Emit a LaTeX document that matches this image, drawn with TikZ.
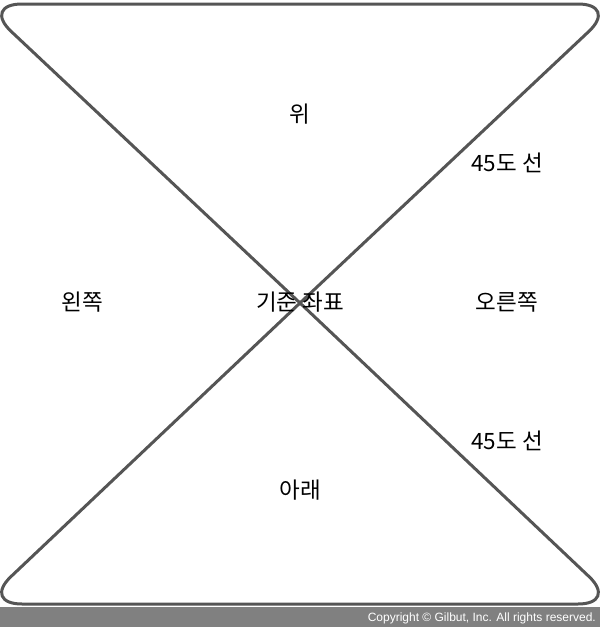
\documentclass[tikz,border=0pt]{standalone}
\usepackage{fontspec}
\setmainfont{Liberation Sans}
\newfontfamily\kr{Noto Sans CJK KR}
\definecolor{edge}{HTML}{555555}
\definecolor{band}{HTML}{808080}
\begin{document}
\begin{tikzpicture}[x=1pt,y=-1pt,
  shape line/.style={draw=edge,line width=3pt,rounded corners=40pt},
  lbl/.style={font=\kr\fontsize{22.5}{26}\selectfont,text=black,inner sep=0pt}]
\useasboundingbox (0,0) rectangle (600,627);
\fill[band] (0,607) rectangle (600,627);
\draw[shape line] (300,303) -- (-18,4) -- (618,4) -- (300,303);
\draw[shape line] (300,303) -- (-18,604) -- (618,604) -- (300,303);
\node[lbl] (up) at (300,114) {위};
\node[lbl] (d1) at (507,163) {45도 선};
\node[lbl] (left) at (82,302) {왼쪽};
\node[lbl] (origin) at (300,302) {기준 좌표};
\node[lbl] (right) at (507,302) {오른쪽};
\node[lbl] (d2) at (507,441) {45도 선};
\node[lbl] (down) at (300,490) {아래};
\node[anchor=east,text=white,font=\fontsize{12}{14}\selectfont,inner sep=0pt] (copy) at (596,618) {Copyright © Gilbut, Inc. All rights reserved.};
\end{tikzpicture}
\end{document}
